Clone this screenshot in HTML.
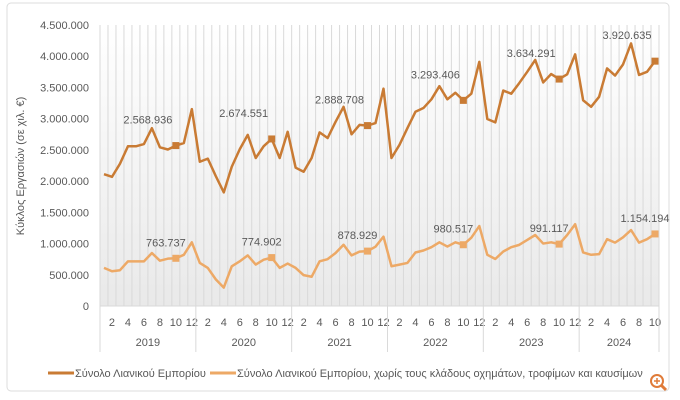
<!DOCTYPE html>
<html><head><meta charset="utf-8">
<style>
html,body{margin:0;padding:0;background:#fff;}
svg{display:block;font-family:"Liberation Sans",sans-serif;}
</style></head>
<body>
<svg id="chart" width="680" height="400" xmlns="http://www.w3.org/2000/svg">
<defs>
<linearGradient id="bg" x1="0" y1="0" x2="0" y2="1">
<stop offset="0" stop-color="#ffffff"/><stop offset="1" stop-color="#e9e9e9"/>
</linearGradient>
</defs>
<rect x="7" y="3" width="662" height="388" rx="4" fill="#fff" stroke="#dcdcdc"/>
<rect x="100" y="25" width="559" height="281" fill="url(#bg)"/>
<g id="grid"></g>
<g id="axes"></g>
<g id="series"></g>
<g id="labels"></g>
<text transform="translate(24,166) rotate(-90)" text-anchor="middle" font-size="11" fill="#595959">Κύκλος Εργασιών (σε χιλ. €)</text>
<g>
<line x1="48" y1="373" x2="74" y2="373" stroke="#c97b34" stroke-width="3"/>
<text x="75" y="377" font-size="11" fill="#595959">Σύνολο Λιανικού Εμπορίου</text>
<line x1="210" y1="373" x2="236" y2="373" stroke="#eda966" stroke-width="3"/>
<text x="237" y="377" font-size="11" fill="#595959">Σύνολο Λιανικού Εμπορίου, χωρίς τους κλάδους οχημάτων, τροφίμων και καυσίμων</text>
</g>
<g>
<circle cx="657" cy="381" r="6" fill="#fff" stroke="#e07b39" stroke-width="2"/>
<line x1="661" y1="385" x2="666" y2="390" stroke="#e07b39" stroke-width="3"/>
<line x1="654" y1="381" x2="660" y2="381" stroke="#e07b39" stroke-width="1.5"/>
<line x1="657" y1="378" x2="657" y2="384" stroke="#e07b39" stroke-width="1.5"/>
</g>
</svg>
<script>
const years = ["2019","2020","2021","2022","2023","2024"];
const monthsPerYear = [12,12,12,12,12,10];
const yTicks = [0,500000,1000000,1500000,2000000,2500000,3000000,3500000,4000000,4500000];
const yTickLabels = ["0","500.000","1.000.000","1.500.000","2.000.000","2.500.000","3.000.000","3.500.000","4.000.000","4.500.000"];
const totalSeries = [
2111,2068,2278,2558,2558,2594,2847,2542,2506,2569,2610,3153,
2310,2360,2080,1820,2230,2510,2740,2370,2560,2675,2370,2790,
2215,2150,2370,2780,2690,2950,3190,2750,2900,2889,2930,3480,
2370,2580,2850,3110,3170,3310,3520,3310,3415,3293,3400,3910,
2995,2940,3450,3400,3570,3750,3940,3580,3715,3634,3710,4030,
3295,3190,3350,3805,3690,3870,4205,3700,3750,3921];
const exclSeries = [
611,557,573,715,715,715,848,726,758,764,820,1020,
690,610,426,295,636,715,810,663,742,775,610,680,
610,494,468,715,750,848,980,810,870,879,950,1110,
637,663,690,857,889,942,1020,952,1020,981,1094,1280,
820,753,873,942,979,1058,1137,1000,1020,991,1137,1310,
857,820,830,1070,1015,1100,1216,1015,1070,1154];
const markerIdx = [9,21,33,45,57,69];
const totalLabels = ["2.568.936","2.674.551","2.888.708","3.293.406","3.634.291","3.920.635"];
const exclLabels = ["763.737","774.902","878.929","980.517","991.117","1.154.194"];

const NS="http://www.w3.org/2000/svg";
const X0=100, X1=659, Y0=306, Y1=25, YMAX=4500000;
const N=totalSeries.length;
const step=(X1-X0)/N;
function xPos(i){return X0+step*(i+0.5);}
function yPos(v){return Y0-(v/YMAX)*(Y0-Y1);}
function mk(tag,attrs,parent){const e=document.createElementNS(NS,tag);for(const k in attrs)e.setAttribute(k,attrs[k]);parent.appendChild(e);return e;}
const grid=document.getElementById('grid'),axes=document.getElementById('axes'),series=document.getElementById('series'),labels=document.getElementById('labels');

for(let i=0;i<=N;i++){
  const l=mk('line',{x1:X0+step*i,x2:X0+step*i,y1:Y1,y2:Y0,stroke:'#d9d9d9','stroke-width':1},grid);
  
  
}
yTicks.forEach((v,k)=>{
  const t=mk('text',{x:89,y:yPos(v)+4,'text-anchor':'end','font-size':11,fill:'#595959'},axes);
  t.textContent=yTickLabels[k];
  
  
});
const base=mk('line',{x1:X0,x2:X1,y1:Y0,y2:Y0,stroke:'#d9d9d9'},axes);


let idx=0;
years.forEach((yr,k)=>{
  const start=idx, n=monthsPerYear[k];
  const sx=X0+step*start;
  const sep=mk('line',{x1:sx,x2:sx,y1:Y0,y2:352,stroke:'#d9d9d9'},axes);
  
  
  for(let m=2;m<=n;m+=2){
    const t=mk('text',{x:xPos(start+m-1),y:326,'text-anchor':'middle','font-size':11,fill:'#595959'},axes);
    t.textContent=String(m);
    
    
  }
  const yt=mk('text',{x:sx+step*n/2,y:346,'text-anchor':'middle','font-size':11,fill:'#595959'},axes);
  yt.textContent=yr;
  
  
  idx+=n;
});
const endSep=mk('line',{x1:X1,x2:X1,y1:Y0,y2:352,stroke:'#d9d9d9'},axes);



function drawSeries(data,color,name,lbls,dx,dy){
  const pts=data.map((v,i)=>xPos(i)+','+yPos(v*1000)).join(' ');
  const pl=mk('polyline',{points:pts,fill:'none',stroke:color,'stroke-width':2.5,'stroke-linejoin':'round'},series);
  
  
  markerIdx.forEach((mi,k)=>{
    const x=xPos(mi),y=yPos(data[mi]*1000);
    const r=mk('rect',{x:x-3.5,y:y-3.5,width:7,height:7,fill:color},series);
    
    
    const t=mk('text',{x:x+dx,y:y+dy,'text-anchor':'middle','font-size':11,fill:'#595959'},labels);
    t.textContent=lbls[k];
    
    
  });
}
drawSeries(totalSeries,'#c97b34','total-retail',totalLabels,-28,-22);
drawSeries(exclSeries,'#eda966','retail-excl',exclLabels,-10,-12);
</script>
</body></html>
